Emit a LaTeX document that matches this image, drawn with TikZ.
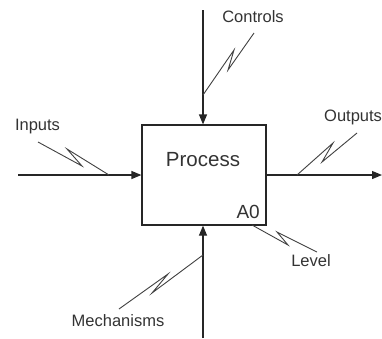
\documentclass[tikz,border=0pt]{standalone}
\usepackage{fontspec}
\setmainfont{Liberation Sans}
\usetikzlibrary{arrows.meta}
\begin{document}
\begin{tikzpicture}[x=1pt,y=-1pt,
  flow/.style={draw=black!85, line width=1.2pt, -{Triangle[length=10pt,width=8pt]}},
  squiggle/.style={draw=black!75, line width=0.9pt, line join=miter},
  lbl/.style={text=black!80, font=\fontsize{16.5}{18}\selectfont, inner sep=0pt},
  procbox/.style={draw=black!85, line width=1.2pt, minimum width=124pt, minimum height=100pt, inner sep=0pt}]
\useasboundingbox (0,0) rectangle (382,338);

% activity box
\node[procbox] (proc) at (204,175) {};
\node[text=black!80, font=\fontsize{20.5}{22}\selectfont, inner sep=0pt] (ptext) at (203,160) {Process};
\node[text=black!80, font=\fontsize{19}{21}\selectfont, inner sep=0pt, anchor=south east] (anum) at (260,219) {A0};

% ICOM arrows
\coordinate (inStart) at (18,175);
\coordinate (outEnd) at (382,175);
\coordinate (ctlStart) at (203,10);
\coordinate (mechStart) at (203,338);
\draw[flow] (inStart) -- (proc.west);
\draw[flow] (proc.east) -- (outEnd);
\draw[flow] (ctlStart) -- (proc.north -| ctlStart);
\draw[flow] (mechStart) -- (proc.south -| mechStart);

% labels
\node[lbl] (inputs) at (37.5,127) {Inputs};
\node[lbl, anchor=west] (outputs) at (324,117) {Outputs};
\node[lbl] (controls) at (253,17) {Controls};
\node[lbl] (mechs) at (118,321) {Mechanisms};
\node[lbl] (level) at (311,261) {Level};

% squiggle leaders
\draw[squiggle] (38,142) -- (82,166) -- (67,149) -- (109,175);
\draw[squiggle] (297,175) -- (333,143) -- (322,162) -- (357,133);
\draw[squiggle] (203,95) -- (234,50) -- (228,70) -- (254,33);
\draw[squiggle] (203,255) -- (152,293) -- (168,274) -- (119,309);
\draw[squiggle] (252,225) -- (288,245) -- (277,232) -- (317,252);
\end{tikzpicture}
\end{document}
